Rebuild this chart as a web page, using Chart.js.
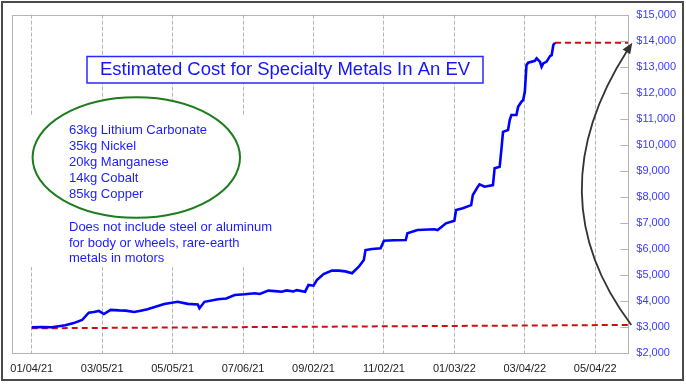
<!DOCTYPE html>
<html>
<head>
<meta charset="utf-8">
<script src="https://cdn.jsdelivr.net/npm/chart.js@4/dist/chart.umd.min.js"></script>
<style>
html,body{margin:0;padding:0;background:#fff;}
canvas{display:block;}
</style>
</head>
<body>
<canvas id="c" width="686" height="384"></canvas>
<script>
// ---- data (trading-day index from 01/04/21, estimated cost in USD) ----
const days = [0,6,12,20,25,30,34,37,40,43,47,52,56,61,65,69,79,87,93,99,100,103,111,116,121,127,133,136,141,145,149,152,156,158,163,165,168,170,174,179,183,187,191,195,198,199,203,208,210,216,223,224,230,240,242,247,252,253,257,262,263,266,267,270,275,276,279,280,281,284,285,286,289,290,292,293,294,295,296,300,301,303,304,305,307,309,310,311,312];
const cost = [2970,2980,2970,3050,3130,3250,3530,3560,3600,3480,3640,3620,3610,3560,3610,3660,3870,3950,3870,3850,3700,3950,4050,4080,4210,4240,4280,4250,4380,4360,4340,4390,4350,4400,4340,4600,4570,4790,5020,5150,5150,5120,5050,5300,5560,5940,5980,6010,6300,6320,6330,6590,6710,6740,6710,6970,7070,7480,7550,7670,8060,8380,8470,8380,8440,9090,9150,9790,10490,10560,10940,11140,11140,11450,11650,11710,12030,13060,13150,13220,13320,13190,12990,13120,13190,13400,13440,13830,13920];
const flatDays = [312, 355.7];
const flatCost = [13920, 13920];
const baseDays = [0, 355.7];
const baseCost = [2930, 3060];
const xLabels = ['01/04/21','03/05/21','05/05/21','07/06/21','09/02/21','11/02/21','01/03/22','03/04/22','05/04/22'];
const tickDays = [0,42,84,126,168,210,252,294,336];
const title = 'Estimated Cost for Specialty Metals In An EV';
const metals = ['63kg Lithium Carbonate','35kg Nickel','20kg Manganese','14kg Cobalt','85kg Copper'];
const note = ['Does not include steel or aluminum','for body or wheels, rare-earth','metals in motors'];

const FONT = "'Liberation Sans', Arial, Helvetica, sans-serif";
Chart.defaults.font.family = FONT;

const zip = (xs, ys) => xs.map((x, i) => ({x: x, y: ys[i]}));
const money = v => '$' + String(v).replace(/\B(?=(\d{3})+(?!\d))/g, ',');

const decor = {
  id: 'decor',
  afterDraw(chart) {
    const ctx = chart.ctx;
    const a = chart.chartArea;
    const ys = chart.scales.y;
    ctx.save();
    // plot frame
    ctx.strokeStyle = '#b4b4b4';
    ctx.lineWidth = 1;
    ctx.setLineDash([]);
    ctx.strokeRect(Math.round(a.left) + 0.5, Math.round(a.top) + 0.5, Math.round(a.right - a.left), Math.round(a.bottom - a.top));
    // inward y tick marks
    ys.ticks.forEach(t => {
      const y = Math.round(ys.getPixelForValue(t.value)) + 0.5;
      ctx.beginPath();
      ctx.moveTo(a.right - 8, y);
      ctx.lineTo(a.right, y);
      ctx.stroke();
    });
    // outer frame
    ctx.strokeStyle = '#4a4a4a';
    ctx.lineWidth = 2;
    ctx.strokeRect(2, 2, 681, 378);

    // title box
    ctx.fillStyle = '#fff';
    ctx.fillRect(87, 56.5, 396, 26.5);
    ctx.strokeStyle = '#2a2aff';
    ctx.lineWidth = 1.5;
    ctx.strokeRect(87, 56.5, 396, 26.5);
    ctx.fillStyle = '#1414ff';
    ctx.font = '18.5px ' + FONT;
    ctx.textAlign = 'center';
    ctx.textBaseline = 'middle';
    ctx.fillText(title, 285, 70);

    // white backing for notes
    ctx.fillStyle = '#fff';
    ctx.fillRect(28, 115, 246, 152);
    // ellipse
    ctx.beginPath();
    ctx.ellipse(136.3, 157.5, 103.7, 60.2, 0, 0, Math.PI * 2);
    ctx.fill();
    ctx.strokeStyle = '#1d7d1d';
    ctx.lineWidth = 2;
    ctx.stroke();
    ctx.fillStyle = '#1c1cff';
    ctx.font = '13px ' + FONT;
    ctx.textAlign = 'left';
    metals.forEach((s, i) => ctx.fillText(s, 69, 130 + i * 16.2));
    note.forEach((s, i) => ctx.fillText(s, 69, 227.5 + i * 15.5));

    // curved arrow from base cost to latest cost
    const p0x = a.right + 3, p0y = ys.getPixelForValue(baseCost[1]);
    const p2x = a.right + 4, p2y = ys.getPixelForValue(flatCost[1]);
    const cx = a.right - 94, cy = (p0y + p2y) / 2 + 12;
    let dx = p2x - cx, dy = p2y - cy;
    const L = Math.hypot(dx, dy); dx /= L; dy /= L;
    const headLen = 11, headW = 4.5;
    const bx = p2x - dx * headLen, by = p2y - dy * headLen;
    ctx.strokeStyle = '#333';
    ctx.lineWidth = 1.8;
    ctx.beginPath();
    ctx.moveTo(p0x, p0y);
    ctx.quadraticCurveTo(cx, cy, bx + dx * 2, by + dy * 2);
    ctx.stroke();
    ctx.fillStyle = '#333';
    ctx.beginPath();
    ctx.moveTo(p2x, p2y);
    ctx.lineTo(bx - dy * headW, by + dx * headW);
    ctx.lineTo(bx + dy * headW, by - dx * headW);
    ctx.closePath();
    ctx.fill();
    ctx.restore();
  }
};

new Chart(document.getElementById('c'), {
  type: 'line',
  data: {
    datasets: [
      {data: zip(days, cost), borderColor: '#0000ff', borderWidth: 2.6, pointRadius: 0, tension: 0, fill: false},
      {data: zip(baseDays, baseCost), borderColor: '#cc1010', borderWidth: 2, borderDash: [6, 4], pointRadius: 0, fill: false},
      {data: zip(flatDays, flatCost), borderColor: '#cc1010', borderWidth: 2, borderDash: [6, 4], pointRadius: 0, fill: false}
    ]
  },
  options: {
    responsive: false,
    animation: false,
    devicePixelRatio: 1,
    layout: {padding: {left: 11, top: 14.5, right: 0, bottom: 0}},
    plugins: {legend: {display: false}, tooltip: {enabled: false}, title: {display: false}},
    scales: {
      x: {
        type: 'linear', min: -11.5, max: 355.7,
        afterBuildTicks: s => { s.ticks = tickDays.map(v => ({value: v})); },
        ticks: {callback: (v, i) => xLabels[i], color: '#222', font: {size: 11}, padding: 10, maxRotation: 0, autoSkip: false},
        grid: {color: '#b4b4b4', lineWidth: 1, drawTicks: false},
        border: {display: false, dash: [4, 2]},
        afterFit: s => { s.height = 31.5; }
      },
      y: {
        position: 'right', min: 2000, max: 15000,
        ticks: {stepSize: 1000, callback: v => money(v), color: '#3a3aff', font: {size: 11}, padding: 8},
        grid: {display: false, drawTicks: false},
        border: {display: false},
        afterFit: s => { s.width = 57.7; }
      }
    }
  },
  plugins: [decor]
});
</script>
</body>
</html>
